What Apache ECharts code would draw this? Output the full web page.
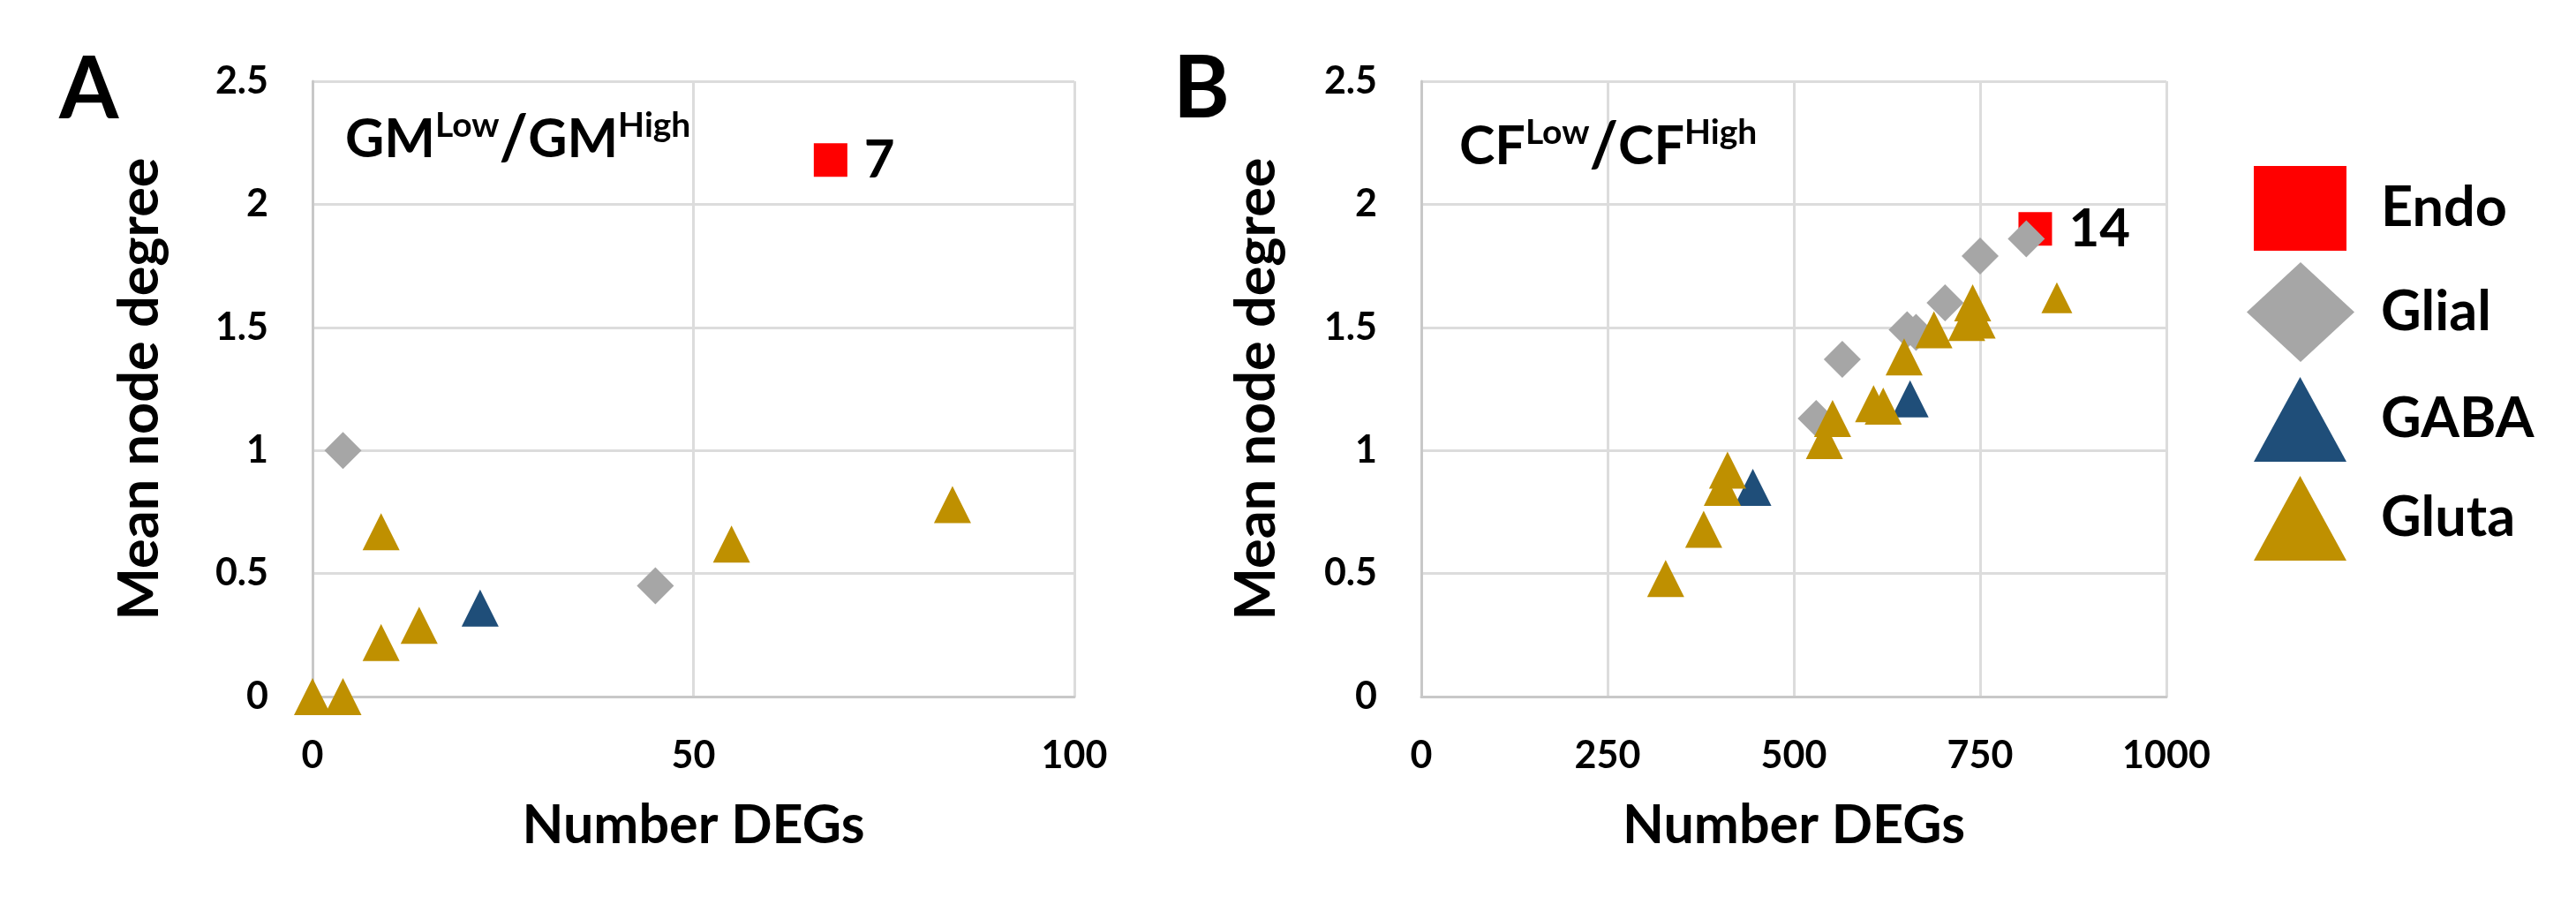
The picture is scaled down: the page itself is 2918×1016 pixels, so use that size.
<!DOCTYPE html>
<html lang="en">
  <head>
    <meta charset="utf-8" />
    <title>Mean node degree vs Number DEGs</title>
    <script type="text/javascript" src="https://cdn.jsdelivr.net/npm/echarts@6/dist/echarts.min.js"></script>
    <style>
      html, body { margin: 0; padding: 0; background: #fff; }
      #chart { width: 2918px; height: 1016px; }
    </style>
  </head>
  <body>
    <div id="chart"></div>
    <script>
      // cell types (legend order)
      var cellTypes = ['Endo', 'Glial', 'GABA', 'Gluta']

      // panel A: GM low / GM high   [number DEGs, mean node degree]
      var endoA = [[68, 2.18]]
      var endoLabelA = '7'
      var glialA = [[4, 1.0], [45, 0.45]]
      var gabaA = [[22, 0.36]]
      var glutaA = [[0, 0], [4, 0], [9, 0.67], [9, 0.22], [14, 0.29], [55, 0.62], [84, 0.78]]

      // panel B: CF low / CF high
      var endoB = [[824, 1.90]]
      var endoLabelB = '14'
      var glialB = [[812, 1.86], [750, 1.79], [703, 1.60], [652, 1.49], [664, 1.48], [565, 1.37], [530, 1.13]]
      var gabaB = [[656, 1.21], [445, 0.85]]
      var glutaB = [[740, 1.60], [732, 1.52], [746, 1.53], [688, 1.49], [648, 1.38], [607, 1.19], [620, 1.18],
        [552, 1.13], [541, 1.04], [411, 0.92], [404, 0.85], [379, 0.68], [328, 0.48]]
      var glutaSmallB = [[853, 1.62]]

      // axis ticks
      var xTicksA = { min: 0, max: 100, interval: 50 }
      var xTicksB = { min: 0, max: 1000, interval: 250 }
      var yTicks = { min: 0, max: 2.5, interval: 0.5 }

      var FONT = 'Lato'
      var colors = { Endo: '#ff0000', Glial: '#a6a6a6', GABA: '#1f4e79', Gluta: '#bf9000' }
      var symbols = { Endo: 'rect', Glial: 'diamond', GABA: 'triangle', Gluta: 'triangle' }
      var sizes = { Endo: [38, 38], Glial: [42, 42], GABA: [42, 42], Gluta: [42, 42] }

      function plain (v) { return String(v) }

      function xAxis (gridIndex, ticks) {
        return {
          type: 'value', gridIndex: gridIndex,
          min: ticks.min, max: ticks.max, interval: ticks.interval,
          name: 'Number DEGs', nameLocation: 'middle', nameGap: 116,
          nameTextStyle: { fontFamily: FONT, fontWeight: 'bold', fontSize: 61, lineHeight: 61, color: '#000' },
          axisLine: { show: true, lineStyle: { color: '#c8c8c8', width: 3 } },
          axisTick: { show: false },
          axisLabel: { margin: 46, formatter: plain, fontFamily: FONT, fontWeight: 'bold', fontSize: 43, lineHeight: 43, color: '#000' },
          splitLine: { show: true, lineStyle: { color: '#dcdcdc', width: 3 } }
        }
      }

      function yAxis (gridIndex, nameGap) {
        return {
          type: 'value', gridIndex: gridIndex,
          min: yTicks.min, max: yTicks.max, interval: yTicks.interval,
          name: 'Mean node degree', nameLocation: 'middle', nameGap: nameGap,
          nameTextStyle: { fontFamily: FONT, fontWeight: 'bold', fontSize: 63, lineHeight: 63, color: '#000' },
          axisLine: { show: true, lineStyle: { color: '#c8c8c8', width: 3 } },
          axisTick: { show: false },
          axisLabel: { margin: 50, formatter: plain, fontFamily: FONT, fontWeight: 'bold', fontSize: 43, color: '#000' },
          splitLine: { show: true, lineStyle: { color: '#dcdcdc', width: 3 } }
        }
      }

      function scatter (name, data, panel, label) {
        var s = {
          type: 'scatter', name: name, data: data,
          xAxisIndex: panel, yAxisIndex: panel,
          symbol: symbols[name], symbolSize: sizes[name],
          itemStyle: { color: colors[name], opacity: 1 },
          emphasis: { disabled: true }
        }
        if (label) {
          s.label = {
            show: true, position: 'right', distance: 19, formatter: label,
            fontFamily: FONT, fontWeight: 'bold', fontSize: 60, color: '#000'
          }
        }
        return s
      }

      function subTitle (left, top, a) {
        return {
          left: left, top: top, padding: 0,
          text: '{m|' + a + '}{s|Low}{k|/}{m|' + a + '}{s|High}',
          textStyle: {
            rich: {
              m: { fontFamily: FONT, fontWeight: 'bold', fontSize: 61, lineHeight: 70, color: '#000' },
              k: { fontFamily: FONT, fontWeight: 'bold', fontSize: 70, lineHeight: 70, color: '#000' },
              s: { fontFamily: FONT, fontWeight: 'bold', fontSize: 39, lineHeight: 40, verticalAlign: 'top', color: '#000' }
            }
          }
        }
      }

      // one legend per cell type so the diamond can be drawn larger, as in the figure
      function legendItem (name, left, top, w, h) {
        return {
          data: [name], orient: 'vertical',
          left: left, top: top, padding: 0,
          itemWidth: w, itemHeight: h,
          selectedMode: false,
          textStyle: { fontFamily: FONT, fontWeight: 'bold', fontSize: 63, color: '#000', padding: [0, 0, 0, 2697 - left - w - 5] }
        }
      }

      var panelLetter = { fontFamily: FONT, fontWeight: 'bold', fontSize: 97, lineHeight: 97, color: '#000' }

      var glutaSmall = scatter('Gluta', glutaSmallB, 1)
      glutaSmall.symbolSize = [35, 35]

      var chart = echarts.init(document.getElementById('chart'), null, { renderer: 'canvas' })
      chart.setOption({
        animation: false,
        backgroundColor: '#fff',
        title: [
          { text: 'A', left: 67, top: 54, padding: 0, textStyle: panelLetter },
          { text: 'B', left: 1329, top: 53, padding: 0, textStyle: panelLetter },
          subTitle(391, 123, 'GM'),
          subTitle(1653, 131, 'CF')
        ],
        legend: [
          legendItem(cellTypes[0], 2553, 188, 105, 96),
          legendItem(cellTypes[1], 2545, 297, 122, 113),
          legendItem(cellTypes[2], 2553, 427, 105, 96),
          legendItem(cellTypes[3], 2553, 539, 105, 96)
        ],
        grid: [
          { left: 354, top: 92, width: 863, height: 697 },
          { left: 1610, top: 92, width: 844, height: 697 }
        ],
        xAxis: [xAxis(0, xTicksA), xAxis(1, xTicksB)],
        yAxis: [yAxis(0, 164), yAxis(1, 155)],
        series: [
          scatter('Endo', endoA, 0, endoLabelA),
          scatter('Glial', glialA, 0),
          scatter('GABA', gabaA, 0),
          scatter('Gluta', glutaA, 0),
          scatter('Endo', endoB, 1, endoLabelB),
          scatter('Glial', glialB, 1),
          scatter('GABA', gabaB, 1),
          scatter('Gluta', glutaB, 1),
          glutaSmall
        ]
      })
    </script>
  </body>
</html>
